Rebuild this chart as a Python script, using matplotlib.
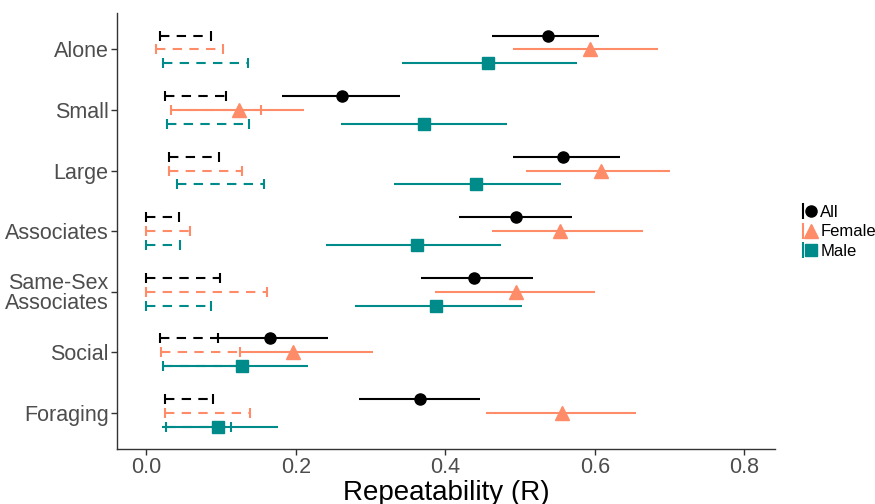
import matplotlib
matplotlib.use("Agg")
import matplotlib.pyplot as plt
from matplotlib.lines import Line2D
from matplotlib.legend_handler import HandlerTuple
import numpy as np

plt.rcParams['font.family'] = ['Liberation Sans', 'DejaVu Sans']

categories = ["Alone", "Small", "Large", "Associates", "Same-Sex\nAssociates", "Social", "Foraging"]
groups = ["All", "Female", "Male"]

all_est = [0.538, 0.262, 0.558, 0.494, 0.439, 0.165, 0.366]
all_lo = [0.462, 0.182, 0.490, 0.418, 0.367, 0.094, 0.285]
all_hi = [0.606, 0.339, 0.634, 0.570, 0.517, 0.243, 0.447]
all_null_lo = [0.019, 0.025, 0.030, 0.0, 0.0, 0.019, 0.025]
all_null_hi = [0.087, 0.107, 0.098, 0.044, 0.099, 0.096, 0.090]

female_est = [0.593, 0.124, 0.608, 0.553, 0.495, 0.196, 0.556]
female_lo = [0.491, 0.041, 0.508, 0.463, 0.386, 0.125, 0.454]
female_hi = [0.685, 0.211, 0.700, 0.664, 0.600, 0.303, 0.655]
female_null_lo = [0.013, 0.033, 0.030, 0.0, 0.0, 0.020, 0.025]
female_null_hi = [0.103, 0.154, 0.128, 0.058, 0.162, 0.125, 0.139]

male_est = [0.457, 0.371, 0.441, 0.362, 0.387, 0.128, 0.096]
male_lo = [0.342, 0.260, 0.332, 0.241, 0.279, 0.022, 0.021]
male_hi = [0.576, 0.483, 0.555, 0.475, 0.503, 0.216, 0.176]
male_null_lo = [0.022, 0.028, 0.041, 0.0, 0.0, 0.022, 0.026]
male_null_hi = [0.136, 0.138, 0.158, 0.045, 0.087, 0.134, 0.113]

x_ticks = [0.0, 0.2, 0.4, 0.6, 0.8]
x_ticklabels = ["0.0", "0.2", "0.4", "0.6", "0.8"]

colors = ["#000000", "#FF8C69", "#008B8B"]
markers = ["o", "^", "s"]
msizes = [8, 9.5, 8]
offsets = [0.23, 0.0, -0.23]

series = [
    (all_est, all_lo, all_hi, all_null_lo, all_null_hi),
    (female_est, female_lo, female_hi, female_null_lo, female_null_hi),
    (male_est, male_lo, male_hi, male_null_lo, male_null_hi),
]

fig = plt.figure(figsize=(8.75, 5.04), dpi=100)
ax = fig.add_axes([0.1337, 0.109, 0.752, 0.865])

n = len(categories)
ypos = np.arange(n, 0, -1).astype(float)  # Alone at top

lw = 1.5
# dashed null intervals with caps
for (est, lo, hi, nlo, nhi), c, off in zip(series, colors, offsets):
    yy = ypos + off
    for i in range(n):
        ax.plot([nlo[i], nhi[i]], [yy[i], yy[i]], color=c, lw=lw,
                dashes=(4.5, 3.5), solid_capstyle='butt', dash_capstyle='butt', zorder=2)
        ax.plot([nlo[i], nhi[i]], [yy[i], yy[i]], ls='none', marker='|',
                ms=7, mew=lw, color=c, zorder=2)

# solid CIs with points
for (est, lo, hi, nlo, nhi), c, off, mk, ms in zip(series, colors, offsets, markers, msizes):
    yy = ypos + off
    ax.hlines(yy, lo, hi, color=c, lw=lw, zorder=3)
    ax.plot(est, yy, ls='none', marker=mk, ms=ms, color=c, mec=c, zorder=4)

ax.set_xlim(-0.039, 0.841)
ax.set_ylim(0.4, 7.6)
ax.set_xticks(x_ticks)
ax.set_xticklabels(x_ticklabels)
ax.set_yticks(ypos)
ax.set_yticklabels(categories, linespacing=0.95)

for s in ['top', 'right']:
    ax.spines[s].set_visible(False)
for s in ['left', 'bottom']:
    ax.spines[s].set_color('#333333')
    ax.spines[s].set_linewidth(1.0)

ax.tick_params(axis='both', colors='#333333', length=4, width=1.0,
               labelcolor='#4D4D4D', labelsize=15.5, pad=2)
ax.set_xlabel("Repeatability (R)", fontsize=20, color='black', labelpad=1)

handles = []
for c, mk, ms in zip(colors, markers, msizes):
    vline = Line2D([], [], ls='none', marker='|', ms=12, mew=lw, color=c)
    pt = Line2D([], [], ls='none', marker=mk, ms=ms, color=c)
    handles.append((vline, pt))

fig.legend(handles, groups, loc='center left', bbox_to_anchor=(0.903, 0.54),
           frameon=False, fontsize=12, handlelength=1.0, handletextpad=0.3,
           labelspacing=0.25, borderpad=0,
           handler_map={tuple: HandlerTuple(ndivide=None)})

fig.savefig("out.png", dpi=100)
